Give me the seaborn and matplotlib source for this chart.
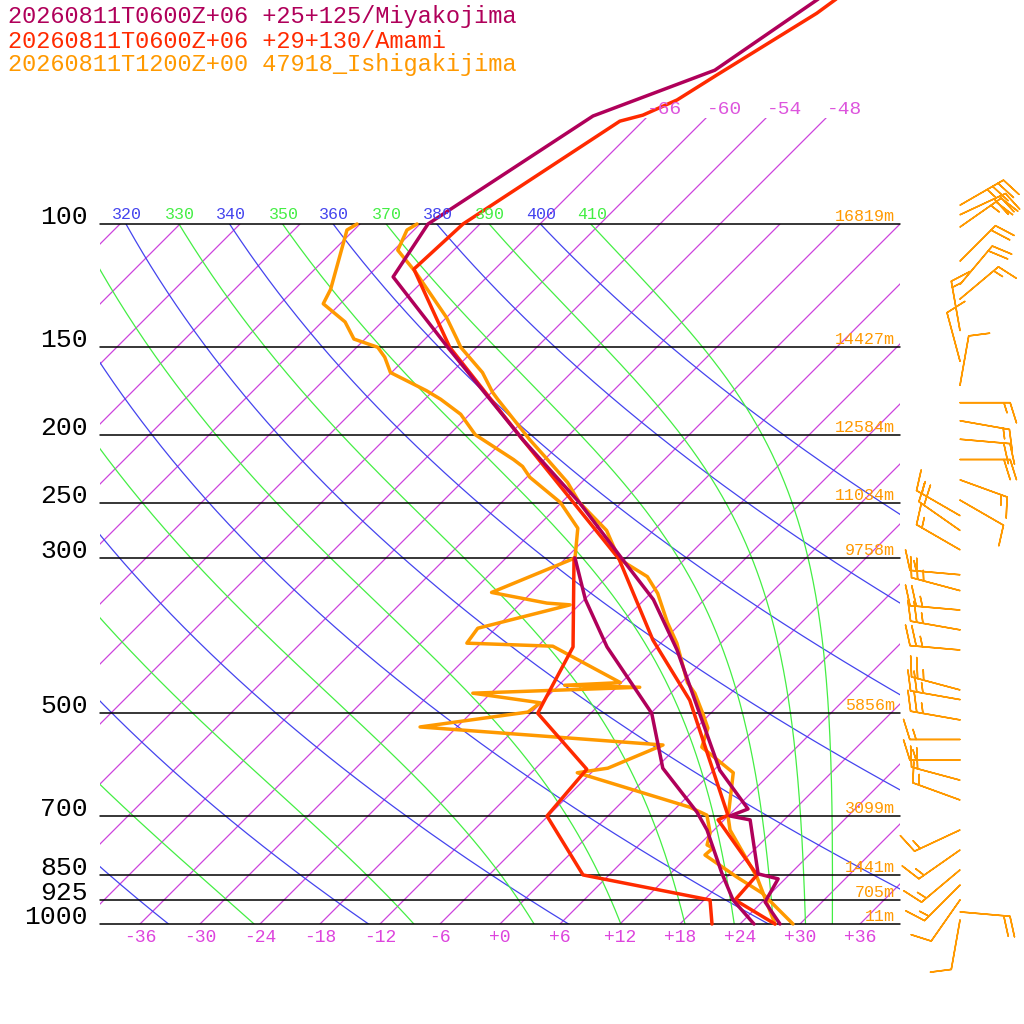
import numpy as np
import pandas as pd
import seaborn as sns
import matplotlib
matplotlib.use("Agg")
import matplotlib.pyplot as plt
from matplotlib.patches import Rectangle

# ---------------- data ----------------
miy_T_p = [1000, 930, 862, 848, 710, 701, 685, 603, 406, 344, 302, 250, 203.5, 150, 119, 100, 70.1, 60.3, 47.8, 44]
miy_T_t = [28.0, 24.3, 23.3, 20.8, 14.6, 12.2, 13.3, 6.6, -9.7, -17.1, -24.1, -34.2, -46.1, -62.9, -75.4, -77.2, -71.5, -63.9, -60.7, -59.5]
miy_D_p = [1000, 924, 846, 734, 692, 599, 500, 402, 344, 300]
miy_D_t = [25.4, 20.9, 17.1, 11.3, 8.5, 0.7, -5.9, -17.0, -23.9, -29.1]

ama_T_p = [1000, 924, 851, 710, 699, 479, 393, 301, 203.5, 150, 116, 100, 71.3, 69.9, 66.5, 61.2, 50.0, 47.8, 44]
ama_T_t = [27.5, 21.1, 20.8, 11.4, 11.9, -3.4, -13.1, -24.6, -46.1, -62.7, -74.1, -73.7, -68.3, -66.6, -64.7, -63.2, -59.4, -58.9, -58.0]
ama_D_p = [1000, 924, 851, 701, 601, 500, 483, 402, 300]
ama_D_t = [21.2, 18.6, 3.4, -6.1, -6.8, -17.3, -17.8, -20.4, -29.2]

ish_A_p = [1000, 857, 734, 703, 608, 559, 525, 500, 468, 452, 397, 371, 337, 319, 301, 274, 250, 234,
           217, 203.5, 178, 174, 163, 150, 146, 136, 128, 117, 109, 102, 100]
ish_A_t = [27.5, 21.0, 13.6, 12.1, 8.2, 2.5, 1.2, -0.8, -3.6, -5.4, -10.4, -13.4, -17.3, -20.0, -24.6, -28.7, -34.2, -37.4,
           -41.7, -45.4, -52.7, -53.9, -56.9, -61.6, -62.8, -66.0, -69.1, -73.7, -77.6, -78.7, -78.3]
ish_B_p = [100, 102, 124, 130, 138, 146, 150, 155, 163, 173, 178, 187, 200, 217, 222, 230, 250, 272, 300,
           336, 348, 350, 378, 397, 401, 452, 456, 459, 468, 483, 498, 523, 555, 599, 608, 681, 699, 741,
           771, 779, 797, 857, 903, 1000]
ish_B_t = [-84.3, -84.7, -80.4, -79.7, -75.7, -73.1, -69.9, -68.2, -66.1, -60.7, -58.4, -54.9, -51.4, -45.1, -43.5, -41.7, -36.1, -31.8, -29.1,
           -34.0, -27.4, -24.9, -31.8, -31.4, -22.5, -12.1, -17.4, -9.7, -25.8, -18.1, -18.4, -27.7, -1.6, -4.8, -7.4, 7.3, 9.8, 11.9,
           12.8, 13.7, 13.6, 19.0, 23.1, 29.3]

wind_p = [94, 97, 101, 113, 122, 128, 142, 157, 170, 180, 191, 203, 217, 232, 248, 261, 274, 292, 317, 334, 356,
          380, 406, 463, 478, 511, 545, 583, 623, 665, 734, 784, 837, 880, 924, 961, 987]
wind_dir = [60, 65, 55, 45, 40, 50, 350, 345, 10, 90, 100, 95, 90, 110, 120, 300, 305, 300, 275, 285, 275,
            280, 275, 285, 280, 280, 270, 270, 285, 290, 245, 235, 230, 225, 215, 95, 190]
wind_spd = [35, 30, 25, 20, 20, 15, 15, 10, 10, 15, 15, 20, 20, 15, 10, 15, 20, 15, 15, 25, 25,
            25, 25, 25, 25, 25, 15, 15, 20, 15, 15, 15, 15, 15, 10, 20, 10]

levels = [100, 150, 200, 250, 300, 500, 700, 850, 925, 1000]
heights = ["16819m", "14427m", "12584m", "11034m", "9758m", "5856m", "3099m", "1441m", "705m", "11m"]
temp_ticks = list(range(-36, 37, 6))
iso_labels = [-66, -60, -54, -48]
dry_thetas = list(range(240, 401, 20))
moist_thetas = list(range(250, 411, 20))

titles = ["20260811T0600Z+06 +25+125/Miyakojima",
          "20260811T0600Z+06 +29+130/Amami",
          "20260811T1200Z+00 47918_Ishigakijima"]
c_miy, c_ama, c_ish = "#b0005a", "#ff2a00", "#ff9900"
c_iso, c_dry, c_moist = "#cc44dd", "#4444ee", "#44ee44"

# ---------------- geometry ----------------
SK = 70.0  # skew per decade of pressure (deg units)
def X(t, p):
    return np.asarray(t, float) + SK * np.log10(1000.0 / np.asarray(p, float))

P_BOT = 1000 * 10 ** (100 / 700)
P_TOP = 1000 * 10 ** (-924 / 700)
XMIN, XMAX = -50.0, 52.4
X_L, X_R = -40.0, 40.0

sns.set_theme(style="white")
plt.rcParams['font.family'] = ['Liberation Mono', 'DejaVu Sans']
fig = plt.figure(figsize=(10.24, 10.24), dpi=100)
ax = fig.add_axes([0, 0, 1, 1])
ax.set_yscale("log")
ax.set_xlim(XMIN, XMAX)
ax.set_ylim(P_BOT, P_TOP)
ax.axis("off")

box = Rectangle((X_L, 100), X_R - X_L, 900, transform=ax.transData, facecolor="none", edgecolor="none")
ax.add_patch(box)
box_ext = Rectangle((X_L, 70.5), X_R - X_L, 1000 - 70.5, transform=ax.transData, facecolor="none", edgecolor="none")
ax.add_patch(box_ext)

pp = np.logspace(np.log10(1000), np.log10(60), 200)

# isotherms
for t in range(-150, 60, 6):
    ln, = ax.plot(X(np.full_like(pp, t), pp), pp, color=c_iso, lw=0.9)
    ln.set_clip_path(box_ext if t in range(-66, -47, 6) else box)
for t in iso_labels:
    ax.text(X(t, 70.5) + 0.1, 68.7, f"{t:d}", color="#dd55dd", fontsize=14, ha="left", va="center")

def theta_label(xc, val, color):
    if xc >= X_L:
        ax.text(xc - 1.4, 98.3, str(val), color=color, fontsize=12, ha="left", va="baseline")
    elif xc + 2.0 >= X_L:
        ax.text(X_L, 98.3, str(val)[-1], color=color, fontsize=12, ha="left", va="baseline")

# dry adiabats
for th in dry_thetas:
    tt = th * (pp / 1000.0) ** 0.2857 - 273.15
    ln, = ax.plot(X(tt, pp), pp, color=c_dry, lw=0.9)
    ln.set_clip_path(box)
    theta_label(X(th * 0.1 ** 0.2857 - 273.15, 100), th, c_dry)

# moist adiabats (pseudo, Bolton theta-e)
def theta_e(tc, p):
    tk = tc + 273.15
    es = 6.112 * np.exp(17.67 * tc / (tc + 243.5))
    es = np.minimum(es, 0.5 * p)
    r = 0.622 * es / (p - es)
    return tk * (1000 / p) ** (0.2854 * (1 - 0.28 * r)) * np.exp((3.376 / tk - 0.00254) * r * 1000 * (1 + 0.81 * r))

pm = np.logspace(np.log10(1000), np.log10(100), 150)
for the in moist_thetas:
    lo = np.full_like(pm, -140.0)
    hi = np.full_like(pm, 45.0)
    for _ in range(60):
        mid = (lo + hi) / 2
        f = theta_e(mid, pm) > the
        hi = np.where(f, mid, hi)
        lo = np.where(f, lo, mid)
    tt = (lo + hi) / 2
    ln, = ax.plot(X(tt, pm), pm, color=c_moist, lw=0.9)
    ln.set_clip_path(box)
    theta_label(X(tt[-1], 100), the, c_moist)

# pressure lines, labels, heights
for p, h in zip(levels, heights):
    ax.plot([X_L, X_R], [p, p], color="black", lw=1.1)
    ax.text(-41.2, p, str(p), fontsize=19, ha="right", va="baseline", color="black")
    ax.text(39.5, p, h, fontsize=12, ha="right", va="bottom", color=c_ish)

for t in temp_ticks:
    lab = f"{t:+d}" if t >= 0 else f"{t:d}"
    ax.text(t, 1017, lab, fontsize=13, ha="center", va="top", color="#dd44dd")

# profiles
def prof(pl, tl, color):
    df = pd.DataFrame({"X": X(tl, pl), "p": pl})
    sns.lineplot(data=df, x="X", y="p", sort=False, estimator=None, color=color, lw=2.5, ax=ax)

prof(ish_A_p, ish_A_t, c_ish)
prof(ish_B_p, ish_B_t, c_ish)
prof(ama_T_p, ama_T_t, c_ama)
prof(ama_D_p, ama_D_t, c_ama)
prof(miy_T_p, miy_T_t, c_miy)
prof(miy_D_p, miy_D_t, c_miy)
ax.set_xlim(XMIN, XMAX)
ax.set_ylim(P_BOT, P_TOP)
ax.axis("off")

# wind barbs
wd = np.deg2rad(np.array(wind_dir, float))
ws = np.array(wind_spd, float)
u = -ws * np.sin(wd)
v = -ws * np.cos(wd)
ax.barbs(np.full(len(wind_p), 46.0), wind_p, u, v, color=c_ish, length=8.5, linewidth=1.1,
         sizes=dict(emptybarb=0.1))

for i, (t, c) in enumerate(zip(titles, [c_miy, c_ama, c_ish])):
    fig.text(0.008, 1 - (17 + 24 * i) / 1024, t, color=c, fontsize=17, ha="left", va="center")

fig.savefig("out.png", dpi=100)
